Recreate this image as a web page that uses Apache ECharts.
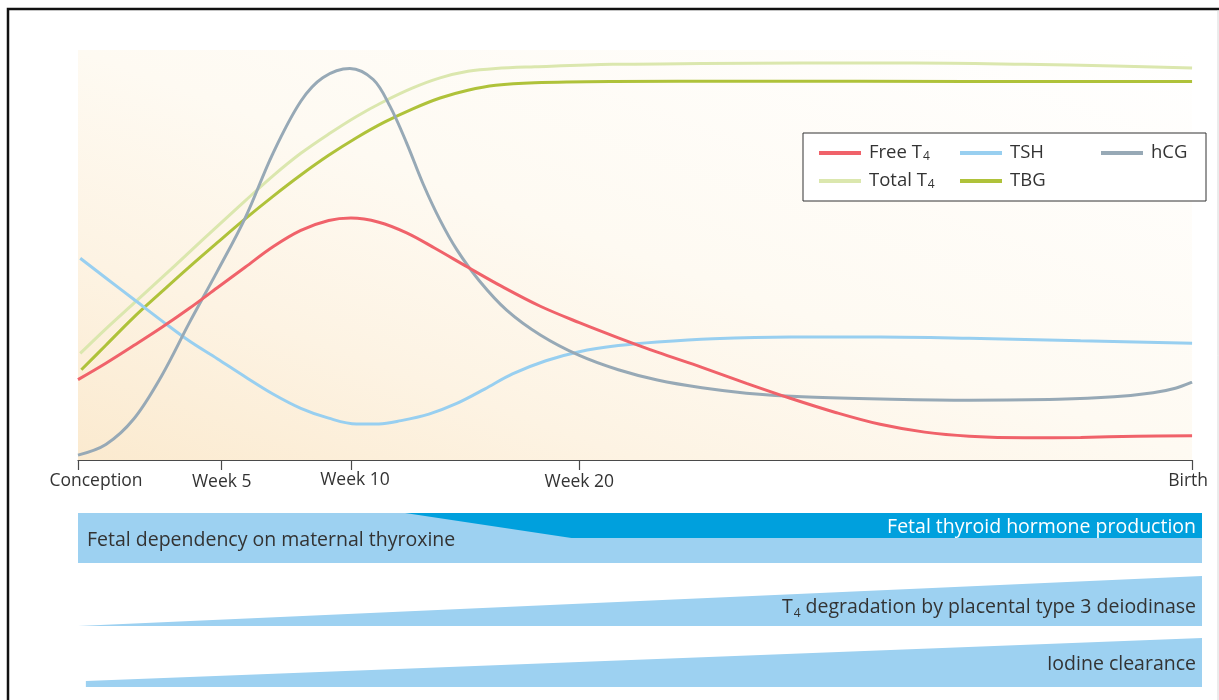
<!DOCTYPE html>
<html>
<head>
<meta charset="utf-8">
<script src="https://cdn.jsdelivr.net/npm/echarts@6/dist/echarts.min.js"></script>
<style>
html,body{margin:0;padding:0;background:#fff;}
#chart{width:1219px;height:700px;}
</style>
</head>
<body>
<div id="chart"></div>
<script>
// ---- Data ----
// x is a relative gestational timeline (0 = conception, 100 = birth), y a relative level (0-100)
const tickPositions = [0, 12.9, 24.5, 45, 100];
const tickLabels = ['Conception', 'Week 5', 'Week 10', 'Week 20', 'Birth'];

const freeT4 = [[0,19.6],[2.5,23.6],[5,27.9],[7.5,32.3],[10,37.0],[12.5,42.0],[15,47.0],[17.5,52.0],[20,56.0],[22.5,58.4],[24.5,59.0],[27,58.0],[29.5,55.4],[32,51.7],[35,47.0],[38,42.4],[41.5,37.5],[45,33.5],[48.5,29.8],[52,26.3],[56,22.6],[60,18.7],[64,15.0],[68,11.6],[72,8.7],[76,6.8],[80,5.8],[85,5.4],[90,5.5],[95,5.8],[100,5.9]];
const tsh = [[0.2,49.2],[2.5,44.4],[5,39.2],[7.5,34.0],[10,29.0],[12.5,24.7],[15,20.3],[17.5,16.1],[20,12.6],[22.5,10.2],[25,8.8],[27,8.8],[29,9.6],[31.5,11.2],[34,13.8],[36.5,17.3],[39,21.0],[42,24.2],[45,26.4],[48.5,27.9],[52,28.8],[57,29.6],[64,30.0],[72,30.0],[80,29.7],[90,29.1],[100,28.5]];
const hcg = [[0,1.2],[2.5,3.8],[5,10],[7.5,20.5],[10,33.5],[12.5,46],[15,59],[17.5,74.8],[20,87.5],[22,93.3],[24.4,95.5],[26.5,92.8],[28,86.3],[29.5,77.3],[31,67.2],[32.5,58.5],[34,51.3],[36,43.8],[38.5,36.5],[41.5,30.5],[45,25.5],[48.5,22.0],[52,19.5],[56,17.6],[60,16.3],[65,15.4],[72,14.9],[80,14.6],[88,14.8],[93,15.4],[96.5,16.4],[98.5,17.5],[100,19.0]];
const totalT4 = [[0.2,26.0],[2.5,32.0],[5,38.2],[7.5,44.4],[10,50.7],[12.5,57.0],[15,63.2],[17.5,69.3],[20,74.8],[22.5,79.5],[25,83.8],[27.5,87.5],[30,90.7],[32.5,93.2],[35,94.8],[37.5,95.5],[41,95.9],[48,96.5],[56,96.7],[65,96.8],[75,96.8],[85,96.5],[93,96.1],[100,95.6]];
const tbg = [[0.3,22.0],[2.5,28.0],[5,34.8],[7.5,41.0],[10,47.1],[12.5,53.0],[15,58.8],[17.5,64.3],[20,69.5],[22.5,74.3],[25,78.6],[27.5,82.4],[30,85.6],[32.5,88.3],[35,90.2],[37.5,91.4],[41,92.0],[48,92.3],[60,92.4],[80,92.3],[100,92.3]];

// Process bands (timeline x, relative band level 0 = top row ... 100 = bottom row)
const bandNames = ['Fetal dependency on maternal thyroxine', 'Fetal thyroid hormone production', 'T4 degradation by placental type 3 deiodinase', 'Iodine clearance'];
const bandStartX = [0, 29.1, 0, 0.7];
const bandBottomStartX = [0, 43.9, 0, 0.7];
const bandEndX = [100, 100, 100, 100];
const bandTopStart = [0, 0, 64.9, 96.6];
const bandTopEnd = [0, 0, 36.2, 71.8];
const bandBottom = [28.7, 14.4, 64.9, 100];

// ---- Styling ----
const FONT = '"Open Sans", "Noto Sans", sans-serif';
const TXT = '#333333';
const bandFill = ['#9dd1f1', '#00a0dd', '#9dd1f1', '#9dd1f1'];
const bandTextColor = [TXT, '#ffffff', TXT, TXT];
const bandTextAlignLeft = [true, false, false, false];
const bandTextDy = [2, 2, 6, 1.5];

const chart = echarts.init(document.getElementById('chart'), null, {renderer: 'canvas'});

function subT4(s) { return s.replace(/T4/, 'T{sub|4}'); }

const labelRich = {
  r0: {padding: [2, 0, 0, 36]},
  r1: {padding: [4, 0, 0, 0]},
  r2: {padding: [0, 0, 0, 8]},
  r3: {padding: [4, 0, 0, 0]},
  r4: {padding: [2, 8, 0, 0]}
};

function lineSeries(name, data, color, z) {
  return {
    name: name, type: 'line', data: data, smooth: 0.35, showSymbol: false, symbol: 'none',
    xAxisIndex: 0, yAxisIndex: 0, color: color, z: z,
    lineStyle: {color: color, width: 3}
  };
}

const option = {
  animation: false,
  backgroundColor: '#ffffff',
  textStyle: {fontFamily: FONT},
  grid: [
    {left: 78, right: 20, top: 50, height: 410, show: true, borderWidth: 0,
     backgroundColor: new echarts.graphic.LinearGradient(0, 1, 0.236, -0.763, [
       {offset: 0, color: '#fbeacf'},
       {offset: 0.25, color: '#fdf3e3'},
       {offset: 0.5, color: '#fefaf2'},
       {offset: 1, color: '#ffffff'}
     ])},
    {left: 78, right: 17, top: 513, height: 174}
  ],
  xAxis: [
    {type: 'value', gridIndex: 0, min: 0, max: 100, splitLine: {show: false},
     axisLine: {lineStyle: {color: '#4a4a4a', width: 1.2}},
     axisTick: {show: true, inside: false, length: 10, customValues: tickPositions, lineStyle: {color: '#4a4a4a', width: 1.2}},
     axisLabel: {customValues: tickPositions, margin: 10, fontSize: 17.5, color: TXT, fontFamily: FONT, lineHeight: 20,
       showMinLabel: true, showMaxLabel: true,
       formatter: function (v) {
         const i = tickPositions.indexOf(v);
         return i < 0 ? '' : '{r' + i + '|' + tickLabels[i] + '}';
       },
       rich: labelRich}
    },
    {type: 'value', gridIndex: 1, min: 0, max: 100, show: false}
  ],
  yAxis: [
    {type: 'value', gridIndex: 0, min: 0, max: 100, show: false},
    {type: 'value', gridIndex: 1, min: 0, max: 100, inverse: true, show: false}
  ],
  legend: {
    left: 803, top: 133, padding: [10, 15, 10, 16],
    itemWidth: 42, itemHeight: 4, itemGap: 8, icon: 'rect',
    width: 380,
    borderColor: '#333', borderWidth: 1, backgroundColor: '#ffffff',
    data: [{name: 'Free T4'}, {name: 'TSH'}, {name: 'hCG', textStyle: {width: 40}}, '', {name: 'Total T4'}, {name: 'TBG'}],
    formatter: function (name) { return subT4(name); },
    textStyle: {fontSize: 18.5, color: TXT, fontFamily: FONT, width: 83, height: 20, lineHeight: 20, padding: [0, 0, 0, 3],
      rich: {sub: {fontSize: 12, color: TXT, fontFamily: FONT, verticalAlign: 'bottom', lineHeight: 10, padding: [8, 0, 0, 1]}}}
  },
  graphic: [
    {type: 'polyline', shape: {points: [[8, 702], [8, 9], [1221, 9]]}, style: {stroke: '#111', lineWidth: 2.5, fill: null}, z: 100},
    {type: 'line', shape: {x1: 1218, y1: 10, x2: 1218, y2: 702}, style: {stroke: '#d8d8d8', lineWidth: 1}, z: 100}
  ],
  series: [
    lineSeries('Total T4', totalT4, '#dbe7ae', 2),
    lineSeries('TBG', tbg, '#afc23a', 3),
    lineSeries('TSH', tsh, '#98cff0', 4),
    lineSeries('hCG', hcg, '#97a9b6', 5),
    lineSeries('Free T4', freeT4, '#f0626a', 6),
    {
      type: 'custom', xAxisIndex: 1, yAxisIndex: 1, clip: false, silent: true,
      data: bandNames.map(function (n, i) { return [bandStartX[i], bandTopStart[i], i]; }),
      renderItem: function (params, api) {
        const i = params.dataIndex;
        const p1 = api.coord([bandStartX[i], bandTopStart[i]]);
        const p2 = api.coord([bandEndX[i], bandTopEnd[i]]);
        const p3 = api.coord([bandEndX[i], bandBottom[i]]);
        const p4 = api.coord([bandBottomStartX[i], bandBottom[i]]);
        let tx, ty, align;
        if (bandTextAlignLeft[i]) {
          tx = p1[0] + 9; ty = (p1[1] + p4[1]) / 2 + bandTextDy[i]; align = 'left';
        } else {
          tx = p2[0] - 6; ty = (p2[1] + p3[1]) / 2 + bandTextDy[i]; align = 'right';
        }
        return {
          type: 'group',
          children: [
            {type: 'polygon', shape: {points: [p1, p2, p3, p4]}, style: {fill: bandFill[i], stroke: null}},
            {type: 'text', z2: 10, style: {
              text: subT4(bandNames[i]), x: tx, y: ty, align: align, verticalAlign: 'middle',
              fill: bandTextColor[i], fontSize: 19.5, fontFamily: FONT,
              rich: {sub: {fontSize: 12, fill: bandTextColor[i], fontFamily: FONT, verticalAlign: 'bottom', padding: [14, 0, 0, 1]}}
            }}
          ]
        };
      }
    }
  ]
};
chart.setOption(option);
</script>
</body>
</html>
